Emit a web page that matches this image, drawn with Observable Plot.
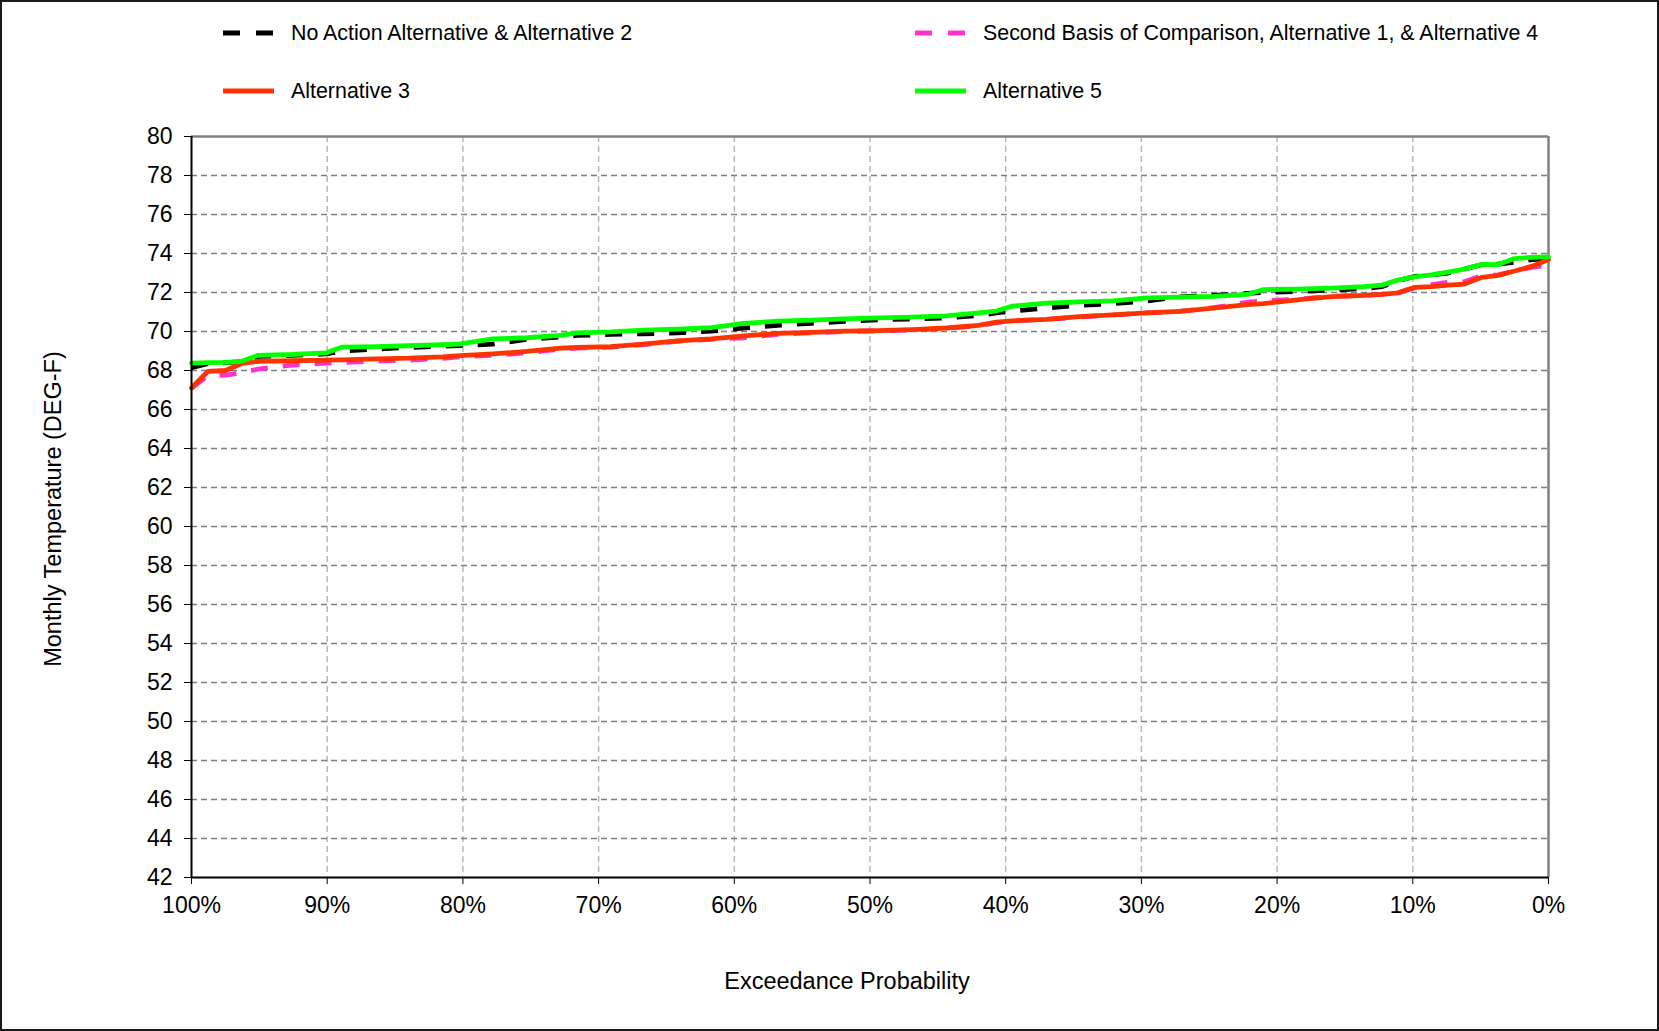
<!DOCTYPE html>
<html>
<head>
<meta charset="utf-8">
<script src="https://cdn.jsdelivr.net/npm/d3@7"></script>
<script src="https://cdn.jsdelivr.net/npm/@observablehq/plot@0.6"></script>
<style>
  html, body { margin: 0; padding: 0; background: #fff; overflow: hidden; }
  #wrap { position: relative; width: 1659px; height: 1031px; font-family: "Liberation Sans", Arial, sans-serif; }
  #border { position: absolute; left: 0; top: 0; width: 1655px; height: 1027px; border: 2px solid #1a1a1a; pointer-events: none; }
  #chart { position: absolute; left: 0; top: 0; }
  .leg { position: absolute; display: flex; align-items: center; font-size: 21.4px; color: #000; white-space: nowrap; }
  .leg svg { margin-right: 17px; }
</style>
</head>
<body>
<div id="wrap">
  <div id="chart"></div>
  <div id="legend"></div>
  <div id="border"></div>
</div>
<script>
// Exceedance probability (%)
const prob = [100, 98.8, 97.5, 96.3, 95.1, 92.6, 90.1, 88.9, 86.4, 84, 81.5, 80.2, 77.8, 75.3, 72.8, 71.6,
  69.1, 66.7, 64.2, 61.7, 59.3, 56.8, 54.3, 51.9, 49.4, 46.9, 44.4, 42, 40.7, 39.5, 37, 34.6, 32.1, 29.6,
  27.2, 24.7, 22.2, 21, 18.5, 16, 13.6, 12.3, 11.1, 9.9, 8.6, 7.4, 6.2, 4.9, 3.7, 2.5, 1.2, 0];

// Monthly temperature (DEG-F)
const noAction = [68.15, 68.35, 68.4, 68.45, 68.72, 68.78, 68.85, 69.0, 69.1, 69.18, 69.25, 69.28, 69.35, 69.6, 69.72, 69.8,
  69.85, 69.88, 69.93, 70.02, 70.17, 70.32, 70.42, 70.52, 70.6, 70.64, 70.7, 70.82, 70.95, 71.05, 71.2, 71.34, 71.43, 71.57,
  71.78, 71.85, 71.95, 72.0, 72.05, 72.12, 72.2, 72.3, 72.6, 72.82, 72.9, 73.0, 73.2, 73.43, 73.45, 73.55, 73.69, 73.74];

const secondBasis = [67.1, 67.72, 67.76, 67.88, 68.07, 68.28, 68.38, 68.41, 68.48, 68.53, 68.62, 68.7, 68.78, 68.9, 69.1, 69.15,
  69.2, 69.33, 69.5, 69.6, 69.68, 69.85, 69.93, 70.0, 70.03, 70.08, 70.15, 70.3, 70.45, 70.55, 70.62, 70.74, 70.85, 70.95,
  71.03, 71.22, 71.5, 71.57, 71.66, 71.8, 71.85, 71.9, 71.98, 72.24, 72.4, 72.52, 72.55, 72.87, 72.9, 73.1, 73.3, 73.4];

const alt3 = [67.1, 67.95, 68.0, 68.36, 68.47, 68.5, 68.53, 68.55, 68.6, 68.63, 68.7, 68.76, 68.85, 68.98, 69.15, 69.18,
  69.22, 69.35, 69.52, 69.62, 69.78, 69.9, 69.95, 70.02, 70.05, 70.1, 70.18, 70.31, 70.48, 70.55, 70.62, 70.76, 70.85, 70.95,
  71.03, 71.2, 71.38, 71.43, 71.62, 71.79, 71.85, 71.9, 71.98, 72.26, 72.3, 72.38, 72.43, 72.78, 72.88, 73.1, 73.35, 73.69];

const alt5 = [68.38, 68.4, 68.42, 68.47, 68.78, 68.82, 68.9, 69.2, 69.22, 69.27, 69.32, 69.36, 69.62, 69.68, 69.8, 69.93,
  69.98, 70.07, 70.12, 70.2, 70.42, 70.53, 70.58, 70.65, 70.7, 70.74, 70.8, 70.95, 71.05, 71.3, 71.45, 71.52, 71.57, 71.72,
  71.76, 71.8, 71.9, 72.15, 72.17, 72.22, 72.3, 72.38, 72.64, 72.8, 72.9, 73.04, 73.2, 73.44, 73.43, 73.74, 73.8, 73.83];

const seriesNames = [
  "No Action Alternative & Alternative 2",
  "Second Basis of Comparison, Alternative 1, & Alternative 4",
  "Alternative 3",
  "Alternative 5"
];
const seriesColors = ["#000000", "#ff33cc", "#ff3300", "#00ff00"];
const seriesDash = ["17,15", "17,15", null, null];

const xTicks = [100, 90, 80, 70, 60, 50, 40, 30, 20, 10, 0];
const yTicks = d3.range(42, 81, 2);

const seriesValues = [noAction, secondBasis, alt3, alt5];
const rows = seriesValues.map((vals, k) => prob.map((p, i) => ({p, v: vals[i], s: seriesNames[k]})));

const font = "'Liberation Sans', Arial, sans-serif";

const lineMarks = rows.map((data, k) => Plot.line(data, {
  x: "p", y: "v",
  stroke: seriesColors[k],
  strokeWidth: 4.8,
  strokeDasharray: seriesDash[k] || undefined,
  strokeLinejoin: "round",
  strokeLinecap: seriesDash[k] ? "butt" : "round"
}));

const chart = Plot.plot({
  width: 1659,
  height: 1031,
  marginLeft: 191,
  marginRight: 111,
  marginTop: 136,
  marginBottom: 154,
  style: {fontFamily: font, fontSize: "23px", color: "#000", background: "transparent"},
  x: {domain: [100, 0]},
  y: {domain: [42, 80]},
  marks: [
    Plot.gridX(xTicks.slice(1, -1), {stroke: "#b8b8b8", strokeOpacity: 1, strokeWidth: 1.5, strokeDasharray: "6,4"}),
    Plot.gridY(yTicks.slice(1, -1), {stroke: "#7f7f7f", strokeOpacity: 1, strokeWidth: 1.6, strokeDasharray: "6,4"}),
    Plot.ruleY([80], {stroke: "#808080", strokeWidth: 2.5}),
    Plot.ruleX([0], {stroke: "#808080", strokeWidth: 2.5}),
    ...lineMarks,
    Plot.ruleY([42], {stroke: "#000", strokeWidth: 2}),
    Plot.ruleX([100], {stroke: "#000", strokeWidth: 2}),
    Plot.axisX(xTicks, {tickFormat: d => d + "%", tickSize: 7, tickPadding: 12, fontSize: 23, label: null, stroke: "#000", color: "#000"}),
    Plot.axisY(yTicks, {tickSize: 7, tickPadding: 12, fontSize: 23, label: null, stroke: "#000", color: "#000"}),
    Plot.text(["Exceedance Probability"], {frameAnchor: "bottom", dx: -23, dy: 111, fontSize: 23.5, fill: "#000"}),
    Plot.text(["Monthly Temperature (DEG-F)"], {frameAnchor: "left", textAnchor: "middle", rotate: -90, dx: -138, dy: 2, fontSize: 23.5, fill: "#000"})
  ]
});
document.getElementById("chart").appendChild(chart);

// Legend
const legPos = [
  {left: 223, top: 33}, {left: 915, top: 33},
  {left: 223, top: 91}, {left: 915, top: 91}
];
const legend = document.getElementById("legend");
seriesNames.forEach((name, k) => {
  const d = document.createElement("div");
  d.className = "leg";
  d.style.left = legPos[k].left + "px";
  d.style.top = (legPos[k].top - 13) + "px";
  d.style.height = "26px";
  const dash = seriesDash[k] ? 'stroke-dasharray="17,16"' : "";
  d.innerHTML = `<svg width="51" height="10"><line x1="0" x2="51" y1="5" y2="5" stroke="${seriesColors[k]}" stroke-width="5" ${dash}/></svg><span>${name.replace(/&/g, "&amp;")}</span>`;
  legend.appendChild(d);
});
</script>
</body>
</html>
